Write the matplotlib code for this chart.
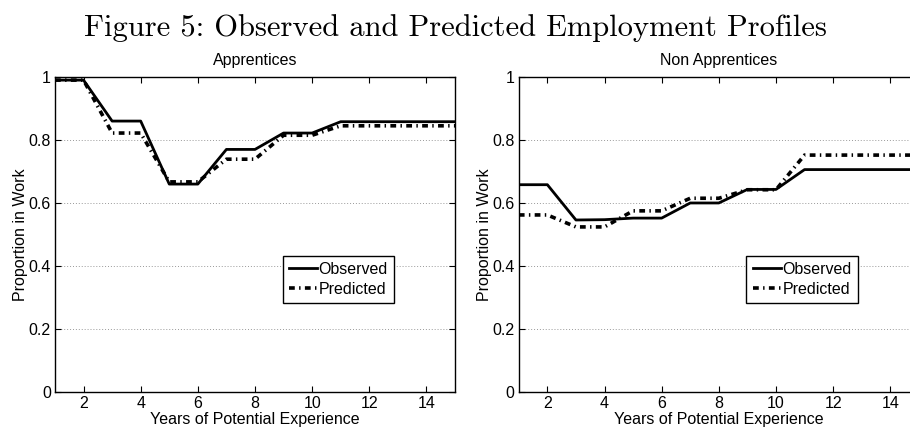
import matplotlib
matplotlib.use("Agg")
import matplotlib.pyplot as plt

years = [1, 2, 3, 4, 5, 6, 7, 8, 9, 10, 11, 12, 13, 14, 15]
app_observed = [0.99, 0.99, 0.86, 0.86, 0.66, 0.66, 0.77, 0.77, 0.822, 0.822, 0.858, 0.858, 0.858, 0.858, 0.858]
app_predicted = [0.99, 0.99, 0.822, 0.822, 0.667, 0.667, 0.739, 0.739, 0.815, 0.815, 0.845, 0.845, 0.845, 0.845, 0.845]
non_observed = [0.658, 0.658, 0.546, 0.547, 0.552, 0.552, 0.60, 0.60, 0.643, 0.643, 0.706, 0.706, 0.706, 0.706, 0.706]
non_predicted = [0.562, 0.562, 0.524, 0.524, 0.575, 0.575, 0.615, 0.615, 0.642, 0.642, 0.752, 0.752, 0.752, 0.752, 0.752]

panel_titles = ["Apprentices", "Non Apprentices"]
series_labels = ["Observed", "Predicted"]
xticks = [2, 4, 6, 8, 10, 12, 14]
yticks = [0, 0.2, 0.4, 0.6, 0.8, 1]
ytick_labels = ["0", "0.2", "0.4", "0.6", "0.8", "1"]
fig_title = "Figure 5: Observed and Predicted Employment Profiles"

plt.rcParams['font.family'] = ['Liberation Sans', 'DejaVu Sans']

fig = plt.figure(figsize=(9.1, 4.3), dpi=100)
fig.text(0.5, 1 - 35.5 / 430, fig_title, ha='center', va='baseline', fontsize=22, family='cmr10')

positions = [[0.0604, 0.0884, 0.4396, 0.7326], [0.5701, 0.0884, 0.4396, 0.7326]]
data = [(app_observed, app_predicted), (non_observed, non_predicted)]

for pos, title, (obs, pred) in zip(positions, panel_titles, data):
    ax = fig.add_axes(pos)
    ax.plot(years, obs, color='black', lw=2.0, ls='-', label=series_labels[0])
    ax.plot(years, pred, color='black', lw=2.6, ls=(0, (1.6, 1.2, 0.4, 1.2)), label=series_labels[1])
    ax.set_xlim(1, 15)
    ax.set_ylim(0, 1)
    ax.set_xticks(xticks)
    ax.set_yticks(yticks)
    ax.set_yticklabels(ytick_labels)
    ax.tick_params(direction='in', top=True, right=True, labelsize=11.5, length=4, width=0.8, pad=3)
    ax.yaxis.grid(True, ls=(0, (1, 2)), color='#999999', lw=0.7)
    for s in ax.spines.values():
        s.set_linewidth(1.0)
    ax.set_title(title, fontsize=11.5, pad=8.5)
    ax.set_xlabel("Years of Potential Experience", fontsize=11.5, labelpad=0.5)
    ax.set_ylabel("Proportion in Work", fontsize=11.5, labelpad=0)
    leg = ax.legend(loc='upper right', bbox_to_anchor=(0.848, 0.433), borderaxespad=0,
                    fontsize=11.5, handlelength=1.75, handletextpad=0.1, borderpad=0.4,
                    labelspacing=0.32, fancybox=False, framealpha=1, edgecolor='black')
    leg.get_frame().set_linewidth(1.0)

fig.savefig("out.png", dpi=100)
